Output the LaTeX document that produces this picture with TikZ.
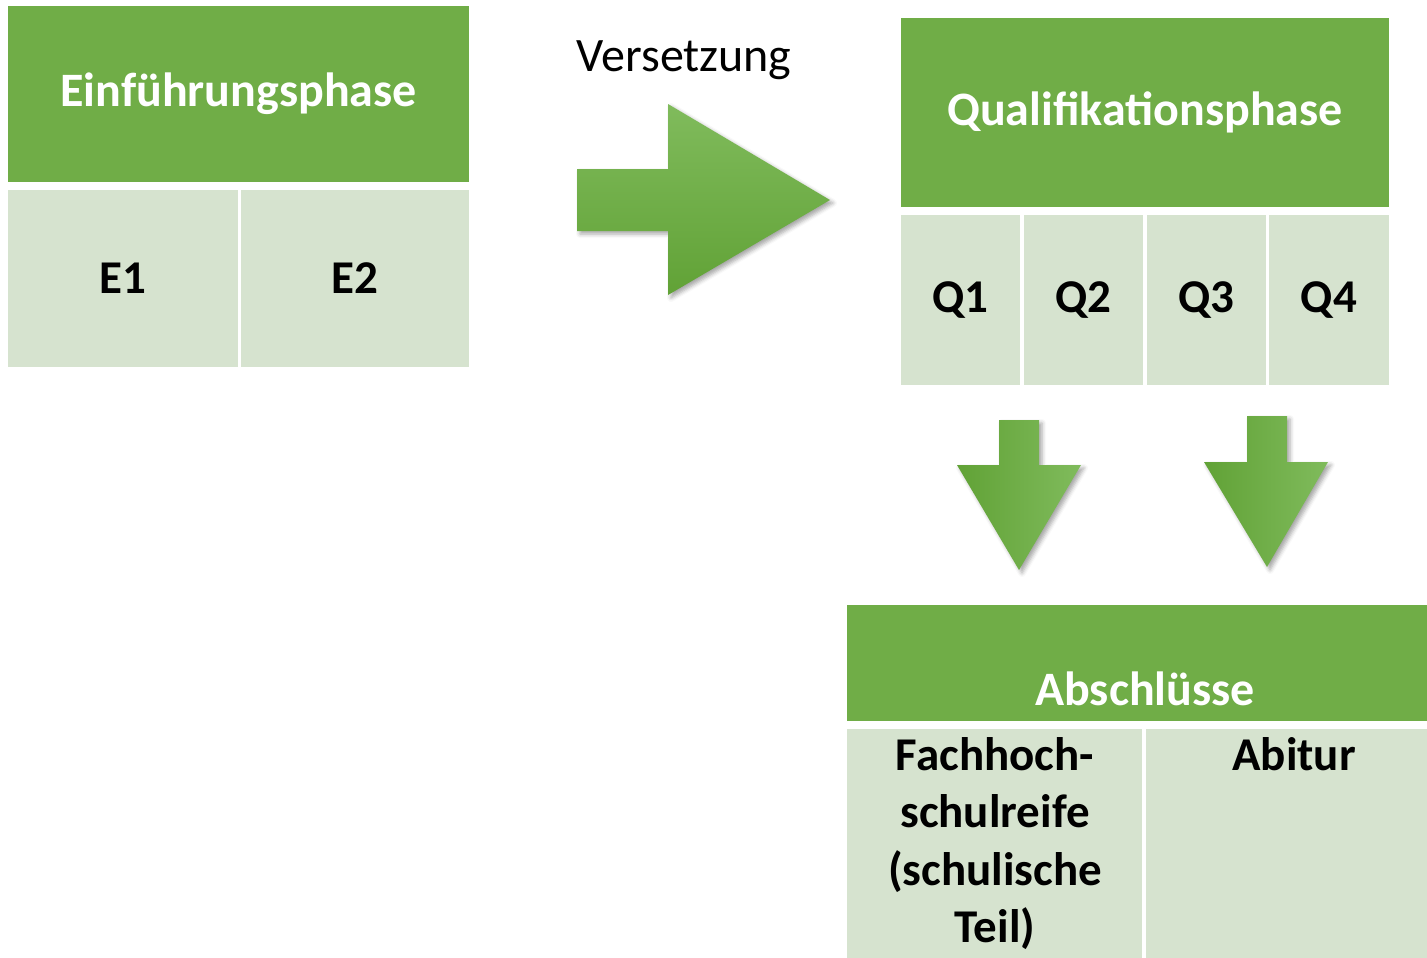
\documentclass[tikz,border=0pt]{standalone}
\usepackage{fontspec}
\setmainfont{Carlito}
\usetikzlibrary{shadows.blur}
\definecolor{gruen}{RGB}{112,173,71}
\definecolor{hellgruen}{RGB}{214,227,207}
\definecolor{pfeilhell}{RGB}{128,187,92}
\definecolor{pfeildunkel}{RGB}{97,162,54}
\begin{document}
\begin{tikzpicture}[x=1pt,y=-1pt]
		\tikzstyle{kopf}=[fill=gruen, text=white, inner sep=0pt, font=\fontsize{48}{57}\selectfont\bfseries]
		\tikzstyle{zelle}=[fill=hellgruen, inner sep=0pt, font=\fontsize{47}{57.5}\selectfont\bfseries]
		\tikzstyle{pfeil}=[blur shadow={shadow xshift=3pt, shadow yshift=-3pt, shadow blur radius=4pt, shadow opacity=35}]
		\useasboundingbox (0,0) rectangle (1427,958);
		\node[kopf, minimum width=461pt, minimum height=176pt] (einf) at (238.5,94) {Einführungsphase}; % links
		\node[zelle, minimum width=230pt, minimum height=177pt] (e1) at (123,278.5) {E1};
		\node[zelle, minimum width=228pt, minimum height=177pt] (e2) at (355,278.5) {E2};
		\node[anchor=base, inner sep=0pt, font=\fontsize{48}{58}\selectfont] (versetzung) at (684,72) {Versetzung};
		\path[pfeil, top color=pfeilhell, bottom color=pfeildunkel] (577,169) -- (668,169) -- (668,104) -- (830,200) -- (668,295) -- (668,231) -- (577,231) -- cycle;
		\node[kopf, minimum width=488pt, minimum height=189pt] (quali) at (1145,112.5) {Qualifikationsphase}; % rechts
		\node[zelle, minimum width=119pt, minimum height=170pt] (q1) at (960.5,300) {Q1};
		\node[zelle, minimum width=119pt, minimum height=170pt] (q2) at (1083.5,300) {Q2};
		\node[zelle, minimum width=119pt, minimum height=170pt] (q3) at (1206.5,300) {Q3};
		\node[zelle, minimum width=120pt, minimum height=170pt] (q4) at (1329,300) {Q4};
		\path[pfeil, left color=pfeildunkel, right color=pfeilhell] (999,420) -- (1039,420) -- (1039,465) -- (1081,465) -- (1019,570) -- (957,465) -- (999,465) -- cycle;
		\path[pfeil, left color=pfeildunkel, right color=pfeilhell] (1247,416) -- (1287,416) -- (1287,462) -- (1328,462) -- (1267,567) -- (1204,462) -- (1247,462) -- cycle;
		\node[kopf, minimum width=580pt, minimum height=116pt] (abschluss) at (1137,663) {}; % unten
		\node[kopf, fill=none, anchor=base] (abschlusstext) at (1145,705) {Abschlüsse};
		\node[zelle, minimum width=295pt, minimum height=229pt] (fhr) at (994.5,843.5) {};
		\node[zelle, minimum width=281pt, minimum height=229pt] (abi) at (1286.5,843.5) {};
		\node[zelle, fill=none, anchor=north, align=center] (fhrtext) at (995,737) {Fachhoch-\\schulreife\\(schulische\\Teil)};
		\node[zelle, fill=none, anchor=base] (abitext) at (1294,770) {Abitur};
	\end{tikzpicture}
\end{document}
